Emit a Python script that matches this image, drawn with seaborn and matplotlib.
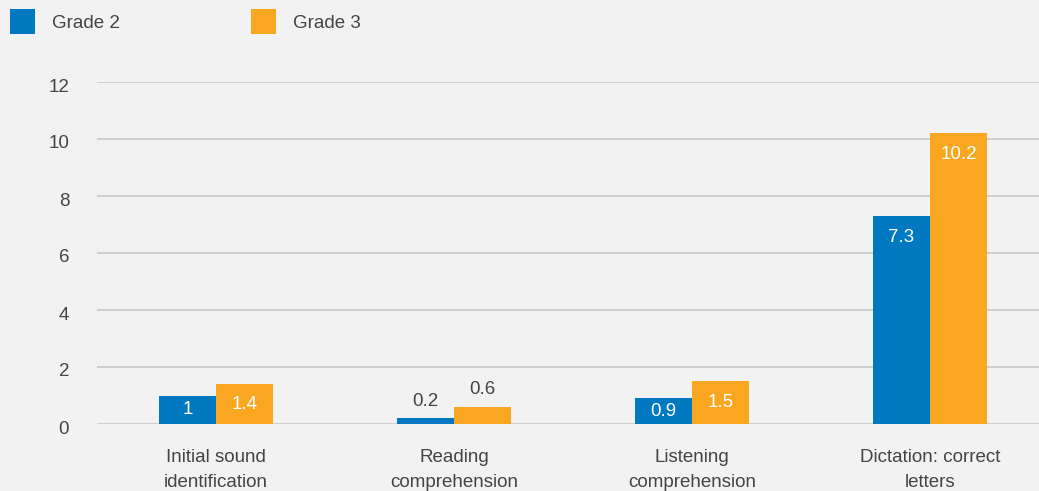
import matplotlib
matplotlib.use("Agg")
import matplotlib.pyplot as plt
import matplotlib.transforms as mtransforms
import seaborn as sns
import pandas as pd

# Data
categories = ["Initial sound\nidentification", "Reading\ncomprehension",
              "Listening\ncomprehension", "Dictation: correct\nletters"]
grade2 = [1.0, 0.2, 0.9, 7.3]
grade3 = [1.4, 0.6, 1.5, 10.2]
series_names = ["Grade 2", "Grade 3"]
y_ticks = [0, 2, 4, 6, 8, 10, 12]

BG = "#f2f2f2"
BLUE = "#0079c1"
ORANGE = "#f9a621"
TEXT = "#444444"
GRID = "#c8c8c8"
FS = 13.5

sns.set_theme(style="white")
plt.rcParams["font.family"] = ["Liberation Sans", "DejaVu Sans"]
plt.rcParams["font.size"] = FS

df = pd.DataFrame({
    "category": categories * 2,
    "value": grade2 + grade3,
    "grade": [series_names[0]] * 4 + [series_names[1]] * 4,
})

fig = plt.figure(figsize=(10.39, 4.91), dpi=100, facecolor=BG)
ax = fig.add_axes([97 / 1039, 67 / 491, 952 / 1039, 342 / 491])
ax.set_facecolor(BG)

sns.barplot(data=df, x="category", y="value", hue="grade",
            palette=[BLUE, ORANGE], saturation=1, width=0.48,
            linewidth=0, ax=ax, zorder=3)

ax.set_xlim(-0.5, 3.5)
ax.set_ylim(0, 12)
ax.set_yticks(y_ticks)
ax.set_yticklabels([str(t) for t in y_ticks])
ax.set_xlabel("")
ax.set_ylabel("")
for s in ax.spines.values():
    s.set_visible(False)
ax.yaxis.grid(True, color=GRID, linewidth=1.2, zorder=0)
ax.set_axisbelow(True)
ax.tick_params(axis="y", length=0, pad=20, labelsize=FS, labelcolor=TEXT)
ax.tick_params(axis="x", length=0, pad=18, labelsize=FS, labelcolor=TEXT)
for lbl in ax.get_xticklabels():
    lbl.set_linespacing(1.6)
# y tick labels sit a little below their gridlines
shift = mtransforms.ScaledTranslation(0, -3 / 100, fig.dpi_scale_trans)
for lbl in ax.get_yticklabels():
    lbl.set_transform(lbl.get_transform() + shift)

# Value labels: inside bars in white, above tiny bars in gray
for cont, vals in zip(ax.containers, [grade2, grade3]):
    for bar, v in zip(cont, vals):
        xc = bar.get_x() + bar.get_width() / 2
        if v >= 0.8:
            y = max(v / 2, v - 0.74)
            ax.text(xc, y, f"{v:g}", ha="center", va="center",
                    color="white", fontsize=FS, zorder=4)
        else:
            ax.text(xc, v + 0.6, f"{v:g}", ha="center", va="center",
                    color=TEXT, fontsize=FS, zorder=4)

handles, labels = ax.get_legend_handles_labels()
ax.get_legend().remove()
leg = fig.legend(handles, labels, loc="upper left",
                 bbox_to_anchor=(10 / 1039, 1 - 9 / 491),
                 ncol=2, frameon=False, borderpad=0, borderaxespad=0,
                 handlelength=1.333, handleheight=1.674, handletextpad=0.9,
                 columnspacing=7.0, fontsize=FS)
for t in leg.get_texts():
    t.set_color(TEXT)

fig.savefig("out.png", dpi=100, facecolor=BG)
